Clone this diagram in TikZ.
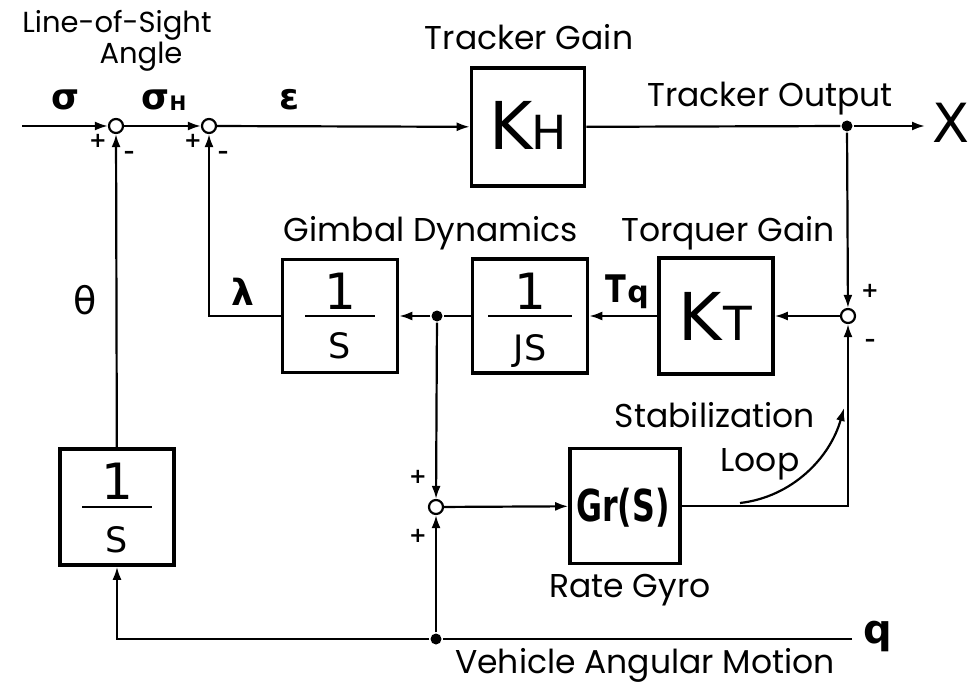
\documentclass[tikz,border=0pt]{standalone}
\usepackage{fontspec}
\usepackage{graphicx}
\setmainfont{Poppins}
\newfontfamily\gk{DejaVu Sans}
\usetikzlibrary{arrows.meta,calc}
\newcommand\fsz[1]{\fontsize{#1}{#1}\selectfont}
\begin{document}
\begin{tikzpicture}[x=1pt,y=-1pt,
  line width=2.2pt,
  blk/.style={draw,line width=3.6pt,inner sep=0pt},
  sumj/.style={circle,draw,line width=2.2pt,fill=white,minimum size=14pt,inner sep=0pt},
  dotn/.style={circle,fill,minimum size=11pt,inner sep=0pt},
  arr/.style={-{Latex[length=13pt,width=9pt]}},
  txt/.style={inner sep=0pt,anchor=base,font=\fsz{33}},
  sgn/.style={inner sep=0pt,font=\gk\bfseries\fsz{21}},
  grk/.style={inner sep=0pt,anchor=base,font=\gk\bfseries\fsz{36}},
  num/.style={inner sep=0pt,anchor=base,font=\gk\fsz{50}},
  den/.style={inner sep=0pt,anchor=base,font=\gk\fsz{35}},
  bar/.style={line width=2.6pt}
]
\useasboundingbox (0,0) rectangle (972,687);

% summing junctions and branch dots
\node[sumj] (s1) at (116,126) {};
\node[sumj] (s2) at (209,126) {};
\node[sumj] (s3) at (848,316) {};
\node[sumj] (s4) at (436,507) {};
\node[dotn] (d1) at (847,126) {};
\node[dotn] (d2) at (437,316) {};
\node[dotn] (d3) at (436,639) {};

% blocks
\node[blk,minimum width=113pt,minimum height=118pt] (kh) at (528,127) {};
\node[inner sep=0pt,anchor=base,font=\gk\fsz{66}] at (511,150) {K};
\node[inner sep=0pt,anchor=base,font=\gk\fsz{47}] at (549,150) {H};

\node[blk,minimum width=114pt,minimum height=116pt] (kt) at (716,316) {};
\node[inner sep=0pt,anchor=base,font=\gk\fsz{66}] at (700,340) {K};
\node[inner sep=0pt,anchor=base,font=\gk\fsz{47}] at (738,340) {T};

\node[blk,minimum width=115pt,minimum height=114pt] (js) at (530,316) {};
\node[num] at ($(js)+(0,-7)$) {1};
\draw[bar] ($(js)+(-42,0)$) -- ($(js)+(42,0)$);
\node[den] at ($(js)+(0,44)$) {JS};

\node[blk,minimum width=115pt,minimum height=113pt] (g1) at (340,316) {};
\node[num] at ($(g1)+(0,-7)$) {1};
\draw[bar] ($(g1)+(-35,0)$) -- ($(g1)+(35,0)$);
\node[den] at ($(g1)+(0,42)$) {S};

\node[blk,minimum width=114pt,minimum height=116pt] (g2) at (117,507) {};
\node[num] at ($(g2)+(0,-8)$) {1};
\draw[bar] ($(g2)+(-35,0)$) -- ($(g2)+(35,0)$);
\node[den] at ($(g2)+(0,45)$) {S};

\node[blk,minimum width=110pt,minimum height=115pt] (gr) at (625,506) {};
\node[inner sep=0pt,font=\gk\bfseries\fsz{44}] at (623,508) {\scalebox{0.72}[1]{Gr(S)}};

% connectors
\coordinate (in) at (22,126);
\coordinate (xo) at (925,126);
\coordinate (qe) at (852,639);
\draw[arr] (in) -- (s1);
\draw[arr] (s1) -- (s2);
\draw[arr] (s2) -- (kh);
\draw (kh) -- (d1);
\draw[arr] (d1) -- (xo);
\draw[arr] (d1) -- (s3);
\draw[arr] (s3) -- (kt);
\draw[arr] (kt) -- (js);
\draw (js) -- (d2);
\draw[arr] (d2) -- (g1);
\draw[arr] (g1.west) -| (s2.south);
\draw[arr] (d2) -- (s4);
\draw[arr] (s4) -- (gr);
\draw[arr] (gr.east) -| (s3.south);
\draw (qe) -- (d3);
\draw[arr] (d3) -| (g2.south);
\draw[arr] (d3) -- (s4);
\draw[arr] (g2) -- (s1);
\coordinate (ca) at (740,503);
\coordinate (cb) at (844,408);
\draw[arr] (ca) .. controls (792,497) and (830,458) .. (cb);

% signs
\node[sgn] at (98,141) {+};
\node[sgn] at (129,155) {\textendash};
\node[sgn] at (193,141) {+};
\node[sgn] at (223,155) {\textendash};
\node[sgn] at (870,291) {+};
\node[sgn] at (870,343) {\textendash};
\node[sgn] at (418,477) {+};
\node[sgn] at (418,536) {+};

% labels
\node[txt,font=\fsz{29}] at (117,33) {Line-of-Sight};
\node[txt,font=\fsz{29}] at (141,64) {Angle};
\node[grk] at (66,110) {σ};
\node[grk] at (156,110) {σ};
\node[inner sep=0pt,anchor=base,font=\gk\bfseries\fsz{20}] at (178,111) {H};
\node[grk] at (290,110) {ε};
\node[txt] at (529,50) {Tracker Gain};
\node[txt] at (770,107) {Tracker Output};
\node[inner sep=0pt,anchor=base,font=\gk\fsz{54}] at (951,143) {X};
\node[txt] at (431,242) {Gimbal Dynamics};
\node[txt] at (728,242) {Torquer Gain};
\node[inner sep=0pt,anchor=base,font=\gk\bfseries\fsz{38}] at (616,302) {\scalebox{0.8}[1]{T}};
\node[inner sep=0pt,anchor=base,font=\gk\bfseries\fsz{30}] at (638,302) {q};
\node[grk] at (243,305) {λ};
\node[inner sep=0pt,font=\gk\fsz{38}] at (85,300) {θ};
\node[txt] at (715,427) {Stabilization};
\node[txt] at (760,471) {Loop};
\node[txt] at (630,597) {Rate Gyro};
\node[inner sep=0pt,anchor=base,font=\gk\bfseries\fsz{40}] at (878,643) {q};
\node[txt] at (645,673) {Vehicle Angular Motion};
\end{tikzpicture}
\end{document}
